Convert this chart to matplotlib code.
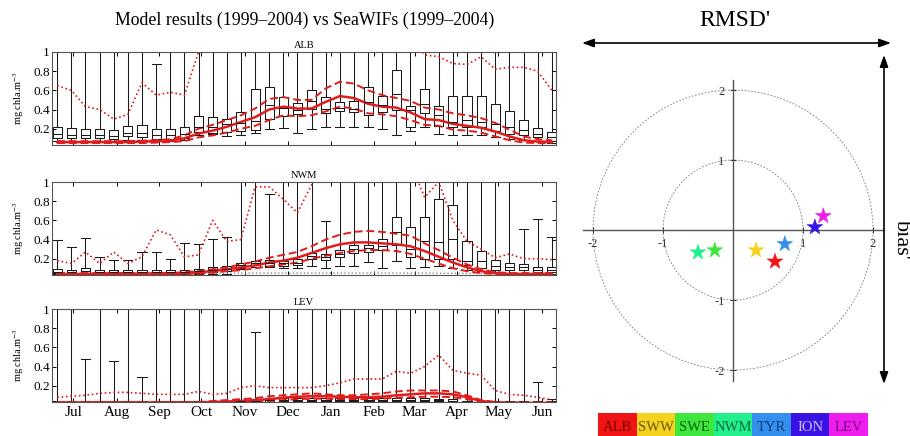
import matplotlib
matplotlib.use("Agg")
import matplotlib.pyplot as plt
from matplotlib.patches import Circle

# 36 ten-day periods, July to June
periods = list(range(36))
month_pos = [1.15, 4.2, 7.2, 10.2, 13.3, 16.3, 19.35, 22.4, 25.3, 28.3, 31.2, 34.3]
month_names = ["Jul", "Aug", "Sep", "Oct", "Nov", "Dec", "Jan", "Feb", "Mar", "Apr", "May", "Jun"]

# ---- ALB: SeaWiFS boxes
alb_q1 = [0.10, 0.10, 0.10, 0.10, 0.09, 0.12, 0.11, 0.09, 0.09, 0.10, 0.17, 0.16, 0.17, 0.18, 0.19, 0.30, 0.33, 0.35,
          0.41, 0.36, 0.38, 0.37, 0.34, 0.37, 0.39, 0.22, 0.36, 0.23, 0.22, 0.22, 0.22, 0.18, 0.14, 0.13, 0.11, 0.07]
alb_med = [0.14, 0.13, 0.13, 0.13, 0.12, 0.15, 0.15, 0.13, 0.13, 0.14, 0.22, 0.22, 0.25, 0.26, 0.28, 0.45, 0.42, 0.40,
           0.49, 0.41, 0.42, 0.41, 0.48, 0.45, 0.56, 0.39, 0.46, 0.34, 0.27, 0.29, 0.27, 0.25, 0.22, 0.19, 0.14, 0.11]
alb_q3 = [0.22, 0.21, 0.20, 0.20, 0.19, 0.23, 0.24, 0.20, 0.20, 0.22, 0.33, 0.32, 0.30, 0.37, 0.61, 0.64, 0.53, 0.47,
          0.60, 0.53, 0.48, 0.49, 0.63, 0.54, 0.81, 0.44, 0.61, 0.44, 0.54, 0.54, 0.54, 0.46, 0.38, 0.29, 0.21, 0.17]
alb_lo = [0.07, 0.07, 0.07, 0.07, 0.07, 0.08, 0.08, 0.07, 0.07, 0.08, 0.13, 0.14, 0.12, 0.13, 0.16, 0.20, 0.21, 0.16,
          0.20, 0.22, 0.22, 0.22, 0.22, 0.20, 0.13, 0.18, 0.22, 0.14, 0.13, 0.13, 0.13, 0.11, 0.09, 0.08, 0.07, 0.05]
alb_hi = [1.5, 1.5, 1.5, 1.5, 1.5, 1.5, 1.5, 0.88, 1.5, 1.5, 1.5, 1.5, 1.5, 1.5, 1.5, 1.5, 1.5, 1.5,
          1.5, 1.5, 1.5, 1.5, 1.5, 1.5, 1.5, 1.5, 1.5, 1.5, 1.5, 1.5, 1.5, 1.5, 1.5, 1.5, 1.5, 1.5]
# ALB: model
alb_mod = [0.06, 0.06, 0.06, 0.06, 0.06, 0.06, 0.065, 0.07, 0.075, 0.10, 0.15, 0.18, 0.22, 0.27, 0.32, 0.40, 0.43, 0.41,
           0.41, 0.48, 0.54, 0.52, 0.46, 0.43, 0.42, 0.37, 0.30, 0.29, 0.25, 0.23, 0.21, 0.17, 0.12, 0.08, 0.065, 0.065]
alb_mod_hi = [0.07, 0.07, 0.07, 0.07, 0.07, 0.07, 0.075, 0.08, 0.09, 0.13, 0.20, 0.24, 0.29, 0.34, 0.41, 0.51, 0.53, 0.50,
              0.50, 0.62, 0.69, 0.67, 0.60, 0.55, 0.52, 0.49, 0.42, 0.40, 0.36, 0.34, 0.31, 0.26, 0.19, 0.12, 0.09, 0.08]
alb_mod_lo = [0.05, 0.05, 0.05, 0.05, 0.05, 0.05, 0.05, 0.055, 0.06, 0.07, 0.11, 0.13, 0.16, 0.20, 0.23, 0.29, 0.34, 0.33,
              0.34, 0.38, 0.43, 0.41, 0.36, 0.35, 0.33, 0.29, 0.24, 0.23, 0.19, 0.18, 0.16, 0.12, 0.08, 0.055, 0.05, 0.05]
alb_mod_max = [0.65, 0.60, 0.43, 0.40, 0.30, 0.35, 0.68, 0.55, 0.58, 0.55, 1.0, 1.2, 1.2, 1.2, 1.2, 1.2, 1.2, 1.2,
               1.2, 1.2, 1.2, 1.2, 1.2, 1.2, 1.2, 1.2, 0.97, 0.95, 0.88, 0.87, 0.95, 0.82, 0.84, 0.84, 0.80, 0.60]

# ---- NWM
nwm_q1 = [0.05, 0.05, 0.05, 0.05, 0.05, 0.05, 0.05, 0.05, 0.05, 0.05, 0.05, 0.06, 0.07, 0.10, 0.11, 0.12, 0.12, 0.13,
          0.20, 0.19, 0.22, 0.26, 0.27, 0.29, 0.34, 0.22, 0.20, 0.20, 0.20, 0.13, 0.10, 0.08, 0.08, 0.08, 0.06, 0.06]
nwm_med = [0.065, 0.065, 0.07, 0.065, 0.065, 0.065, 0.065, 0.065, 0.065, 0.065, 0.07, 0.08, 0.09, 0.13, 0.15, 0.16, 0.15, 0.16,
           0.23, 0.22, 0.25, 0.30, 0.31, 0.33, 0.48, 0.30, 0.38, 0.37, 0.41, 0.18, 0.18, 0.12, 0.11, 0.11, 0.08, 0.08]
nwm_q3 = [0.09, 0.08, 0.10, 0.08, 0.08, 0.08, 0.08, 0.08, 0.08, 0.08, 0.09, 0.11, 0.12, 0.16, 0.18, 0.19, 0.18, 0.20,
          0.26, 0.25, 0.29, 0.34, 0.34, 0.41, 0.64, 0.53, 0.64, 0.82, 0.76, 0.38, 0.28, 0.19, 0.15, 0.14, 0.11, 0.11]
nwm_lo = [0.04, 0.04, 0.04, 0.04, 0.04, 0.04, 0.04, 0.04, 0.04, 0.04, 0.04, 0.04, 0.04, 0.09, 0.11, 0.11, 0.10, 0.10,
          0.12, 0.10, 0.12, 0.12, 0.17, 0.10, 0.18, 0.10, 0.11, 0.12, 0.10, 0.08, 0.07, 0.05, 0.05, 0.05, 0.04, 0.04]
nwm_hi = [0.40, 0.32, 0.42, 0.22, 0.19, 0.19, 0.27, 0.27, 0.20, 0.36, 0.35, 0.41, 0.43, 1.5, 1.5, 0.88, 1.5, 1.5,
          1.5, 0.59, 1.5, 1.5, 1.5, 1.5, 1.5, 1.5, 1.5, 1.5, 1.5, 1.5, 1.5, 1.5, 1.5, 0.51, 0.61, 0.43]
nwm_mod = [0.04, 0.04, 0.04, 0.04, 0.04, 0.04, 0.045, 0.045, 0.045, 0.05, 0.06, 0.07, 0.09, 0.11, 0.13, 0.16, 0.18, 0.21,
           0.26, 0.31, 0.35, 0.37, 0.37, 0.36, 0.35, 0.33, 0.28, 0.22, 0.16, 0.11, 0.07, 0.05, 0.04, 0.04, 0.04, 0.04]
nwm_mod_hi = [0.05, 0.05, 0.05, 0.05, 0.05, 0.05, 0.05, 0.05, 0.05, 0.06, 0.07, 0.09, 0.11, 0.14, 0.17, 0.21, 0.24, 0.27,
              0.33, 0.40, 0.45, 0.48, 0.49, 0.48, 0.46, 0.44, 0.36, 0.29, 0.21, 0.14, 0.09, 0.06, 0.05, 0.05, 0.05, 0.05]
nwm_mod_lo = [0.035, 0.035, 0.035, 0.035, 0.035, 0.035, 0.035, 0.035, 0.035, 0.04, 0.045, 0.055, 0.07, 0.08, 0.10, 0.12, 0.14, 0.16,
              0.20, 0.23, 0.26, 0.28, 0.29, 0.29, 0.28, 0.25, 0.20, 0.15, 0.10, 0.07, 0.05, 0.04, 0.04, 0.04, 0.04, 0.04]
nwm_mod_max = [0.18, 0.15, 0.27, 0.15, 0.27, 0.15, 0.22, 0.50, 0.45, 0.22, 0.24, 0.60, 0.38, 0.40, 0.95, 0.95, 0.82, 0.68,
               0.97, 1.2, 1.2, 1.2, 1.2, 1.2, 1.2, 1.2, 0.84, 1.0, 0.60, 0.38, 0.30, 0.21, 0.25, 0.20, 0.20, 0.19]
nwm_sat_min = [0.045, 0.045, 0.045, 0.045, 0.045, 0.045, 0.045, 0.045, 0.045, 0.048, 0.048, 0.048, 0.048, 0.05, 0.05, 0.05, 0.05, 0.05,
               0.05, 0.05, 0.05, 0.05, 0.05, 0.05, 0.05, 0.05, 0.05, 0.048, 0.048, 0.048, 0.045, 0.045, 0.045, 0.045, 0.045, 0.045]

# ---- LEV
lev_q1 = [0.02, 0.02, 0.02, 0.02, 0.02, 0.02, 0.02, 0.02, 0.02, 0.02, 0.02, 0.02, 0.02, 0.03, 0.035, 0.035, 0.04, 0.04,
          0.04, 0.04, 0.04, 0.04, 0.04, 0.04, 0.04, 0.04, 0.04, 0.04, 0.035, 0.02, 0.02, 0.02, 0.02, 0.02, 0.02, 0.02]
lev_med = [0.03, 0.03, 0.03, 0.03, 0.03, 0.03, 0.03, 0.03, 0.03, 0.03, 0.03, 0.03, 0.03, 0.04, 0.045, 0.05, 0.055, 0.055,
           0.055, 0.055, 0.055, 0.055, 0.055, 0.055, 0.055, 0.055, 0.055, 0.05, 0.045, 0.03, 0.03, 0.03, 0.03, 0.03, 0.03, 0.03]
lev_q3 = [0.045, 0.045, 0.045, 0.045, 0.045, 0.045, 0.045, 0.045, 0.045, 0.045, 0.045, 0.045, 0.045, 0.055, 0.06, 0.065, 0.07, 0.07,
          0.07, 0.07, 0.07, 0.07, 0.07, 0.07, 0.07, 0.07, 0.07, 0.065, 0.06, 0.045, 0.04, 0.04, 0.04, 0.04, 0.04, 0.04]
lev_lo = [0.01, 0.01, 0.01, 0.01, 0.01, 0.01, 0.01, 0.01, 0.01, 0.01, 0.01, 0.01, 0.01, 0.01, 0.01, 0.01, 0.01, 0.01,
          0.01, 0.01, 0.01, 0.01, 0.01, 0.01, 0.01, 0.01, 0.01, 0.01, 0.01, 0.01, 0.01, 0.01, 0.01, 0.01, 0.01, 0.01]
lev_hi = [1.5, 1.5, 0.48, 1.5, 0.46, 1.5, 0.29, 1.5, 1.5, 1.5, 1.5, 1.5, 1.5, 1.5, 0.76, 1.5, 1.5, 1.5,
          1.5, 1.5, 1.5, 1.5, 1.5, 1.5, 1.5, 1.5, 1.5, 1.5, 1.5, 1.5, 1.5, 1.5, 1.5, 1.5, 0.24, 0.06]
lev_mod = [0.025, 0.025, 0.025, 0.025, 0.025, 0.025, 0.025, 0.025, 0.025, 0.025, 0.025, 0.03, 0.035, 0.04, 0.05, 0.06, 0.075, 0.085,
           0.09, 0.09, 0.085, 0.08, 0.08, 0.085, 0.10, 0.11, 0.12, 0.12, 0.11, 0.08, 0.04, 0.025, 0.02, 0.02, 0.02, 0.02]
lev_mod_hi = [0.03, 0.03, 0.03, 0.03, 0.03, 0.03, 0.03, 0.03, 0.03, 0.03, 0.03, 0.04, 0.05, 0.06, 0.07, 0.09, 0.10, 0.11,
              0.12, 0.11, 0.10, 0.10, 0.11, 0.12, 0.14, 0.15, 0.15, 0.15, 0.14, 0.10, 0.05, 0.03, 0.025, 0.025, 0.025, 0.025]
lev_mod_lo = [0.02, 0.02, 0.02, 0.02, 0.02, 0.02, 0.02, 0.02, 0.02, 0.02, 0.02, 0.02, 0.02, 0.03, 0.035, 0.04, 0.05, 0.06,
              0.065, 0.065, 0.06, 0.06, 0.06, 0.065, 0.075, 0.08, 0.085, 0.085, 0.08, 0.06, 0.03, 0.02, 0.02, 0.02, 0.02, 0.02]
lev_mod_max = [0.08, 0.09, 0.10, 0.12, 0.13, 0.13, 0.12, 0.11, 0.11, 0.11, 0.14, 0.11, 0.12, 0.18, 0.20, 0.18, 0.18, 0.18,
               0.18, 0.20, 0.23, 0.27, 0.27, 0.27, 0.35, 0.33, 0.40, 0.52, 0.36, 0.33, 0.31, 0.15, 0.11, 0.10, 0.08, 0.05]

# ---- target diagram
regions = ["ALB", "SWW", "SWE", "NWM", "TYR", "ION", "LEV"]
rmsd = [0.60, 0.33, -0.26, -0.50, 0.74, 1.17, 1.29]
bias = [-0.45, -0.29, -0.29, -0.32, -0.20, 0.04, 0.20]
region_colors = ["#f01414", "#f5d21e", "#3ee63e", "#22f08c", "#3490ec", "#3a12e6", "#ee1eee"]
label_colors = ["#7a0000", "#6a5a00", "#0b620b", "#0b6a3a", "#143c7a", "#c8c0ff", "#7a007a"]
circle_radii = [1, 2]

plt.rcParams["font.family"] = ["Liberation Serif", "DejaVu Serif"]
plt.rcParams["mathtext.fontset"] = "stix"

W, H = 910, 436
fig = plt.figure(figsize=(W / 100, H / 100), dpi=100)
red = "#e01c1c"


def panel(top, name, q1, med, q3, lo, hi, mod, mod_lo, mod_hi, mod_max, sat_min=None, bottom_labels=False):
    ax = fig.add_axes([52 / W, 1 - (top + 93) / H, 504 / W, 93 / H])
    stats = [dict(med=m, q1=a, q3=b, whislo=l, whishi=h, fliers=[])
             for a, m, b, l, h in zip(q1, med, q3, lo, hi)]
    line = dict(color="#1a1a1a", lw=0.75)
    ax.bxp(stats, positions=periods, widths=0.64, showfliers=False, manage_ticks=False,
           boxprops=line, whiskerprops=line, capprops=line, medianprops=line, capwidths=0.64)
    if sat_min is not None:
        ax.plot(periods, sat_min, color="#888888", ls=":", lw=1.0)
    ax.plot(periods, mod_max, color=red, ls=(0, (1, 1.6)), lw=1.2)
    ax.plot(periods, mod_hi, color=red, ls=(0, (4, 2)), lw=1.4)
    ax.plot(periods, mod_lo, color=red, ls=(0, (4, 2)), lw=1.4)
    ax.plot(periods, mod, color=red, lw=1.8)
    ax.set_xlim(-0.37, 35.3)
    ax.set_ylim(0.03, 1.0)
    ax.set_yticks([0.2, 0.4, 0.6, 0.8, 1.0])
    ax.set_yticklabels(["0.2", "0.4", "0.6", "0.8", "1"])
    ax.set_xticks(month_pos)
    if bottom_labels:
        ax.set_xticklabels(month_names)
    else:
        ax.set_xticklabels([])
    ax.tick_params(axis="both", direction="in", top=True, right=True, length=3, width=0.7)
    ax.tick_params(axis="y", labelsize=9.5, pad=1.5)
    ax.tick_params(axis="x", labelsize=11, pad=3)
    for s in ax.spines.values():
        s.set_color("#555555")
        s.set_linewidth(0.8)
    ax.set_title(name, fontsize=7.5, pad=3)
    fig.text(19 / W, 1 - (top + 46) / H, "mg chla.m$^{-3}$", rotation=90, fontsize=7.5,
             ha="center", va="center")
    return ax


panel(52, "ALB", alb_q1, alb_med, alb_q3, alb_lo, alb_hi, alb_mod, alb_mod_lo, alb_mod_hi, alb_mod_max)
panel(182, "NWM", nwm_q1, nwm_med, nwm_q3, nwm_lo, nwm_hi, nwm_mod, nwm_mod_lo, nwm_mod_hi, nwm_mod_max,
      sat_min=nwm_sat_min)
panel(309, "LEV", lev_q1, lev_med, lev_q3, lev_lo, lev_hi, lev_mod, lev_mod_lo, lev_mod_hi, lev_mod_max,
      bottom_labels=True)

fig.text(305 / W, 1 - 20 / H, "Model results (1999\u20132004) vs SeaWIFs (1999\u20132004)",
         fontsize=12.8, ha="center", va="center")

# target diagram
tax = fig.add_axes([579 / W, 1 - 384 / H, 308 / W, 308 / H])
tax.patch.set_visible(False)
tax.set_xlim(-2.2, 2.2)
tax.set_ylim(-2.2, 2.2)
for side in ["top", "right"]:
    tax.spines[side].set_visible(False)
for side in ["left", "bottom"]:
    tax.spines[side].set_position("zero")
    tax.spines[side].set_bounds(-2.15, 2.15)
    tax.spines[side].set_color("#555555")
    tax.spines[side].set_linewidth(1.0)
tax.set_xticks([-2, -1, 1, 2])
tax.set_yticks([-2, -1, 1, 2])
tax.set_xticklabels(["-2", "-1", "1", "2"])
tax.set_yticklabels(["-2", "-1", "1", "2"])
tax.tick_params(direction="inout", length=4, width=0.7, labelsize=9, pad=4, colors="#333333")
for r in circle_radii:
    tax.add_patch(Circle((0, 0), r, fill=False, ls=(0, (2, 2)), lw=0.6, color="#777777"))
tax.scatter(rmsd, bias, marker="*", s=140, c=region_colors, edgecolors=region_colors, linewidths=0.4, zorder=3)

fig.text(735 / W, 1 - 20 / H, "RMSD'", fontsize=17, ha="center", va="center")
fig.text(901 / W, 1 - 240 / H, "bias'", fontsize=16, rotation=-90, ha="center", va="center")
arrow = dict(arrowstyle="<|-|>,head_length=0.7,head_width=0.25", color="black", lw=1.2, shrinkA=0, shrinkB=0)
fig.add_artist(plt.Annotation("", xy=(891 / W, 1 - 43 / H), xytext=(582 / W, 1 - 43 / H),
                              xycoords="figure fraction", textcoords="figure fraction", arrowprops=arrow))
fig.add_artist(plt.Annotation("", xy=(884 / W, 1 - 384 / H), xytext=(884 / W, 1 - 55 / H),
                              xycoords="figure fraction", textcoords="figure fraction", arrowprops=arrow))

# colour strip legend
lax = fig.add_axes([598 / W, 0, 270 / W, 23 / H])
lax.bar(range(len(regions)), [1] * len(regions), width=1.0, color=region_colors)
lax.set_xlim(-0.5, len(regions) - 0.5)
lax.set_ylim(0, 1)
lax.axis("off")
for i, (name, tc) in enumerate(zip(regions, label_colors)):
    lax.text(i, 0.38, name, ha="center", va="center", fontsize=10.5, color=tc)

fig.savefig("out.png", dpi=100)
